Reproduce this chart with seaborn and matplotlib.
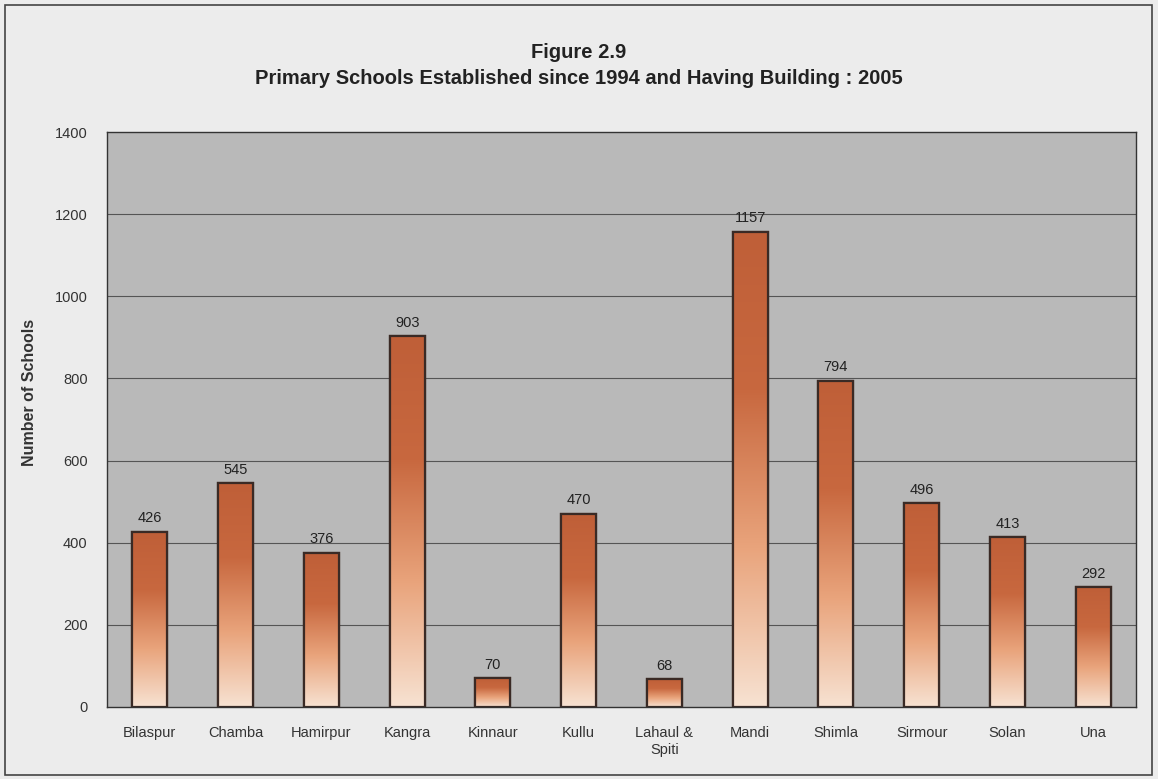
import matplotlib
matplotlib.use("Agg")
import matplotlib.pyplot as plt
import seaborn as sns
import numpy as np
import pandas as pd
from matplotlib.colors import LinearSegmentedColormap
from matplotlib.patches import Rectangle

districts = ["Bilaspur", "Chamba", "Hamirpur", "Kangra", "Kinnaur", "Kullu",
             "Lahaul &\nSpiti", "Mandi", "Shimla", "Sirmour", "Solan", "Una"]
schools = [426, 545, 376, 903, 70, 470, 68, 1157, 794, 496, 413, 292]
yticks = [0, 200, 400, 600, 800, 1000, 1200, 1400]

sns.set_theme(style="white")
plt.rcParams['font.family'] = ['Liberation Sans', 'DejaVu Sans']

df = pd.DataFrame({"District": districts, "Schools": schools})

fig = plt.figure(figsize=(11.58, 7.79), dpi=100)
fig.patch.set_facecolor("#ececec")
ax = fig.add_axes([107/1158, 1-707/779, (1136-107)/1158, (707-132)/779])
ax.set_facecolor("#b9b9b9")

sns.barplot(data=df, x="District", y="Schools", ax=ax, width=0.41,
            color="#d07a50", edgecolor="#3a2a25", linewidth=1.6, saturation=1)

cmap = LinearSegmentedColormap.from_list("grad", ["#f7e2d2", "#e9a47c", "#c8683f", "#bf5f38"])
grad = np.linspace(0, 1, 256).reshape(-1, 1)
for p in ax.patches:
    x0, y0 = p.get_x(), p.get_y()
    w, h = p.get_width(), p.get_height()
    im = ax.imshow(grad, extent=[x0, x0 + w, y0, y0 + h], origin="lower",
                   cmap=cmap, aspect="auto", zorder=p.get_zorder() + 0.1)
    im.set_clip_path(p)
    ax.add_patch(Rectangle((x0, y0), w, h, fill=False, edgecolor="#3a2a25",
                           linewidth=1.6, zorder=p.get_zorder() + 0.2))

for i, v in enumerate(schools):
    ax.text(i, v + 16, str(v), ha="center", va="bottom", fontsize=10.5, color="#222222")

ax.set_xlim(-0.5, 11.5)
ax.set_ylim(0, 1400)
ax.set_yticks(yticks)
ax.set_yticklabels([str(t) for t in yticks], fontsize=10.5, color="#333333")
ax.set_xticks(range(len(districts)))
ax.set_xticklabels(districts, fontsize=10.5, color="#333333", linespacing=1.2)
ax.tick_params(axis="y", length=6, color="#444444", pad=8, width=1)
ax.tick_params(axis="x", length=0, pad=14)
for y in yticks[1:-1]:
    ax.axhline(y, color="#555555", linewidth=0.8, zorder=0.5)
for s in ax.spines.values():
    s.set_color("#333333")
    s.set_linewidth(1.0)
ax.set_xlabel("")
ax.set_ylabel("Number of Schools", fontsize=11.5, fontweight="bold", color="#333333")
ax.yaxis.set_label_coords((37 - 107) / (1136 - 107), (707 - 392) / (707 - 132))

fig.text(0.5, 1-52/779, "Figure 2.9", ha="center", va="center", fontsize=14.5, fontweight="bold", color="#222222")
fig.text(0.5, 1-79/779, "Primary Schools Established since 1994 and Having Building : 2005",
         ha="center", va="center", fontsize=14.5, fontweight="bold", color="#222222")

fig.add_artist(Rectangle((5/1158, 4/779), 1147/1158, 770/779, transform=fig.transFigure,
                         fill=False, edgecolor="#444444", linewidth=1.2))

fig.savefig("out.png", dpi=100, facecolor=fig.get_facecolor())
